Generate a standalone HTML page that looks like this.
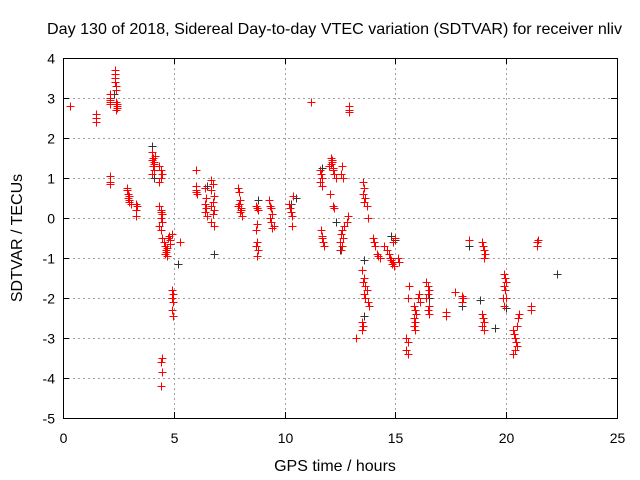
<!DOCTYPE html>
<html><head><meta charset="utf-8"><style>
html,body{margin:0;padding:0;background:#fff;}
svg{display:block;font-family:"Liberation Sans",sans-serif;}
</style></head><body>
<svg id="chart" width="640" height="480" viewBox="0 0 640 480">
<text x="47" y="34" font-size="16" textLength="575" lengthAdjust="spacingAndGlyphs">Day 130 of 2018, Sidereal Day-to-day VTEC variation (SDTVAR) for receiver nliv</text>
<text x="335" y="471" font-size="16" text-anchor="middle">GPS time / hours</text>
<text x="22" y="238" font-size="16" text-anchor="middle" transform="rotate(-90 22 238)">SDTVAR / TECUs</text>
<g id="grid"></g>
<g id="axes"></g>
<g id="series-black"></g>
<g id="series-red"></g>
<rect x="63.5" y="58.5" width="554" height="360" fill="none" stroke="#000" stroke-width="1"/>
</svg>
<script>
const xTicks=[0,5,10,15,20,25];
const yTicks=[-5,-4,-3,-2,-1,0,1,2,3,4];
const redX=[0.3,1.5,1.5,1.5,2.1,2.1,2.1,2.1,2.1,2.1,2.1,2.1,2.35,2.35,2.35,2.35,2.4,2.4,2.4,2.45,2.4,2.45,2.45,
2.9,2.95,2.95,3.0,3.0,3.05,2.9,3.0,3.3,3.3,3.3,3.35,4.0,4.05,4.0,4.1,4.05,4.1,4.0,4.1,4.15,
4.35,4.4,4.45,4.4,4.35,4.35,4.4,4.45,4.4,4.35,4.4,4.45,4.4,4.45,4.45,4.4,4.45,4.4,
4.55,4.6,4.65,4.6,4.7,4.75,4.8,4.85,4.7,4.65,4.9,4.95,4.9,4.95,4.9,4.95,4.9,4.85,5.3,
6.0,6.0,6.0,6.05,6.0,6.4,6.45,6.4,6.45,6.4,6.5,6.7,6.75,6.7,6.8,6.75,6.7,6.8,6.75,6.7,6.8,
7.9,7.95,8.0,7.95,8.05,8.0,8.1,7.9,8.05,8.7,8.75,8.8,8.75,8.7,8.75,8.7,8.8,8.75,
9.3,9.35,9.4,9.45,9.35,9.4,9.5,9.45,10.2,10.25,10.3,10.35,10.4,10.35,11.2,12.9,12.9,12.9,
11.6,11.65,11.7,11.6,11.7,11.65,11.7,11.75,11.8,11.7,12.1,12.15,12.0,12.2,12.25,12.3,12.1,12.2,12.05,12.2,12.25,12.15,
12.6,12.55,12.65,12.6,12.55,12.65,12.5,12.6,12.55,12.7,12.8,12.85,13.2,
13.55,13.6,13.55,13.65,13.6,13.7,13.75,13.5,13.6,13.55,13.65,13.7,13.6,13.65,13.75,13.8,13.5,13.55,13.5,
14.0,14.05,14.1,14.15,14.2,14.3,14.5,14.6,14.7,14.75,14.8,14.9,14.85,14.95,15.0,14.9,15.1,15.15,
15.5,15.55,15.5,15.55,15.6,15.55,15.85,15.9,15.95,15.85,15.9,15.85,15.9,16.0,16.05,16.1,
16.4,16.45,16.5,16.45,16.4,16.5,16.45,16.5,17.3,17.3,17.7,18.0,18.05,18.0,18.3,
18.9,18.95,19.0,19.05,19.0,18.9,18.95,19.0,18.9,19.0,19.9,19.95,20.0,19.9,19.95,20.0,19.9,19.85,
20.3,20.35,20.4,20.45,20.5,20.4,20.3,20.55,20.6,20.5,21.1,21.1,21.4,21.4,21.45];
const redY=[2.8,2.6,2.5,2.4,3.0,2.9,3.1,2.85,2.95,1.05,0.9,0.85,3.7,3.6,3.5,3.4,3.3,3.2,2.9,2.8,2.7,2.75,2.85,
0.75,0.6,0.5,0.45,0.4,0.35,0.7,0.55,0.35,0.2,0.05,0.3,1.65,1.5,1.45,1.4,1.3,1.2,1.1,1.35,1.55,
1.3,1.2,1.1,1.0,0.9,0.3,0.2,0.1,0.0,-0.2,-0.3,-0.5,0.15,-0.1,-3.5,-3.6,-3.85,-4.2,
-0.6,-0.7,-0.8,-0.9,-0.95,-0.5,-0.45,-0.65,-0.75,-0.85,-1.8,-1.9,-2.0,-2.1,-2.3,-2.45,-0.4,-0.55,-0.6,
1.2,0.8,0.7,0.6,0.65,0.75,0.5,0.35,0.25,0.15,0.05,0.95,0.85,0.7,0.55,0.4,0.3,0.2,0.1,-0.1,-0.2,
0.75,0.65,0.45,0.35,0.25,0.15,0.05,0.3,0.2,0.3,0.25,0.2,-0.15,-0.3,-0.6,-0.7,-0.8,-0.95,
0.45,0.3,0.25,0.1,0.0,-0.1,-0.2,-0.25,0.35,0.25,0.15,0.05,0.55,-0.2,2.9,2.8,2.7,2.65,
1.2,1.1,1.0,0.9,0.8,-0.3,-0.5,-0.6,-0.7,-0.45,1.5,1.4,1.3,1.2,1.1,1.0,1.35,1.25,0.6,0.3,0.25,1.45,
1.3,1.1,1.0,-0.3,-0.4,-0.5,-0.6,-0.7,-0.8,-0.2,-0.1,0.05,-3.0,
0.9,0.75,0.6,0.5,0.4,0.3,0.0,-1.3,-1.5,-1.6,-1.7,-1.8,-1.9,-2.0,-2.1,-2.2,-2.6,-2.7,-2.8,
-0.5,-0.6,-0.7,-0.9,-0.95,-1.0,-0.7,-0.8,-0.9,-1.0,-1.05,-1.1,-1.15,-1.2,-0.5,-0.6,-1.0,-1.1,
-3.0,-3.1,-3.3,-3.4,-1.7,-2.0,-2.2,-2.3,-2.4,-2.5,-2.6,-2.7,-2.8,-2.0,-1.9,-2.1,
-1.6,-1.7,-1.8,-1.9,-2.0,-2.2,-2.3,-2.4,-2.35,-2.45,-1.85,-1.95,-2.0,-2.1,-0.55,
-0.6,-0.7,-0.8,-0.9,-1.0,-2.4,-2.5,-2.6,-2.7,-2.8,-1.4,-1.5,-1.6,-1.7,-1.8,-2.0,-2.2,-2.0,
-2.8,-2.9,-3.0,-3.1,-3.2,-3.3,-3.4,-2.5,-2.4,-2.7,-2.2,-2.3,-0.6,-0.7,-0.55];
const blackX=[2.3,4.0,4.1,5.2,6.5,6.8,8.8,10.3,10.5,11.7,12.3,12.5,13.6,13.6,14.8,15.0,16.5,18.0,18.3,18.8,19.5,20.0,22.3];
const blackY=[3.1,1.8,1.0,-1.15,0.8,-0.9,0.45,0.35,0.5,1.25,-0.1,-0.8,-1.05,-2.45,-0.45,-0.55,-2.0,-2.2,-0.7,-2.05,-2.75,-2.25,-1.4];

const L=63,R=617,T=58,B=418;
const xs=v=>L+(v-0)/25*(R-L);
const ys=v=>B-(v+5)/9*(B-T);
const NS="http://www.w3.org/2000/svg";
function mk(tag,attrs,parent){const e=document.createElementNS(NS,tag);for(const k in attrs)e.setAttribute(k,attrs[k]);parent.appendChild(e);return e;}
const grid=document.getElementById('grid'),axes=document.getElementById('axes');
xTicks.forEach(t=>{
  const x=Math.round(xs(t))+0.5;
  if(t>0&&t<25){const g=mk('line',{x1:x,x2:x,y1:T,y2:B,stroke:'#a0a0a0','stroke-dasharray':'2,3'},grid);
  
  }
  mk('line',{x1:x,x2:x,y1:B,y2:B-6,stroke:'#000'},axes);
  mk('line',{x1:x,x2:x,y1:T,y2:T+6,stroke:'#000'},axes);
  const tx=mk('text',{x:x,y:B+25,'font-size':'14','text-anchor':'middle'},axes);
  tx.textContent=t;
  
  
});
yTicks.forEach(t=>{
  const y=Math.round(ys(t))+0.5;
  if(t>-5&&t<4){const g=mk('line',{x1:L,x2:R,y1:y,y2:y,stroke:'#a0a0a0','stroke-dasharray':'2,3'},grid);
  
  }
  mk('line',{x1:L,x2:L+6,y1:y,y2:y,stroke:'#000'},axes);
  mk('line',{x1:R,x2:R-6,y1:y,y2:y,stroke:'#000'},axes);
  const tx=mk('text',{x:L-8,y:y+5,'font-size':'14','text-anchor':'end'},axes);
  tx.textContent=t;
  
  
});
function plot(X,Y,color,gid,name){
  const g=document.getElementById(gid);
  X.forEach((xv,i)=>{
    const x=Math.round(xs(xv))+0.5,y=Math.round(ys(Y[i]))+0.5;
    const p=mk('path',{d:`M${x-4} ${y}H${x+4}M${x} ${y-4}V${y+4}`,stroke:color,'stroke-width':'1',fill:'none'},g);
    
    
  });
}
plot(blackX,blackY,'#333','series-black','black-point');
plot(redX,redY,'#ff0000','series-red','red-point');
</script>
</body></html>
